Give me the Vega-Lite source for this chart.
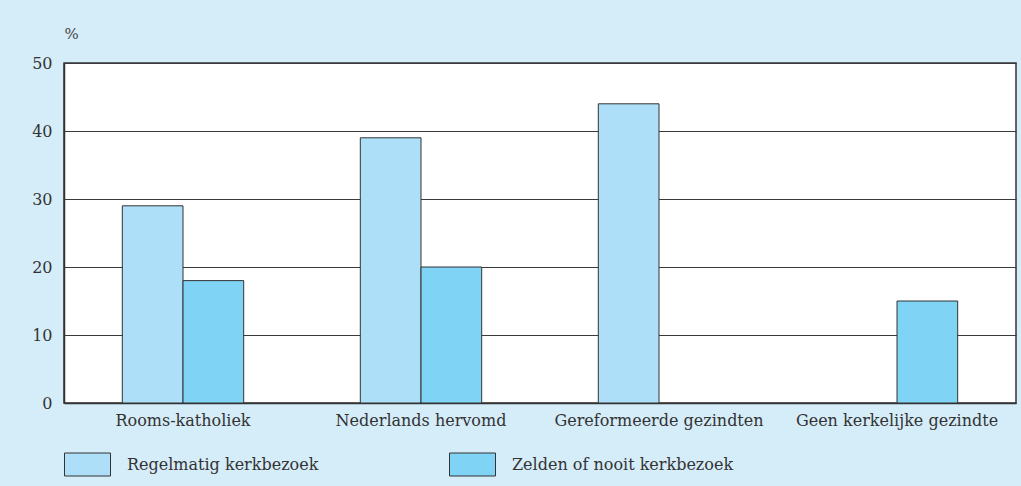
{
  "$schema": "https://vega.github.io/schema/vega-lite/v6.json",
  "width": 952,
  "height": 340,
  "autosize": {"type": "none"},
  "padding": {"left": 64, "top": 63, "right": 5, "bottom": 83},
  "background": "#d5ecf9",
  "data": {
    "values": [
      {"groep": "Rooms-katholiek", "kerkbezoek": "Regelmatig kerkbezoek", "pct": 29},
      {"groep": "Rooms-katholiek", "kerkbezoek": "Zelden of nooit kerkbezoek", "pct": 18},
      {"groep": "Nederlands hervomd", "kerkbezoek": "Regelmatig kerkbezoek", "pct": 39},
      {"groep": "Nederlands hervomd", "kerkbezoek": "Zelden of nooit kerkbezoek", "pct": 20},
      {"groep": "Gereformeerde gezindten", "kerkbezoek": "Regelmatig kerkbezoek", "pct": 44},
      {"groep": "Geen kerkelijke gezindte", "kerkbezoek": "Zelden of nooit kerkbezoek", "pct": 15}
    ]
  },
  "mark": {"type": "bar", "stroke": "#333333", "strokeWidth": 1},
  "encoding": {
    "x": {
      "field": "groep",
      "type": "nominal",
      "sort": ["Rooms-katholiek", "Nederlands hervomd", "Gereformeerde gezindten", "Geen kerkelijke gezindte"],
      "scale": {"paddingInner": 0.49, "paddingOuter": 0.245},
      "axis": {
        "title": null,
        "labelAngle": 0,
        "ticks": false,
        "labelPadding": 9,
        "labelFontSize": 16,
        "labelLimit": 300,
        "labelColor": "#333333",
        "domainColor": "#333333",
        "domainWidth": 1.5,
        "labelFont": "DejaVu Serif"
      }
    },
    "xOffset": {
      "field": "kerkbezoek",
      "type": "nominal",
      "scale": {"domain": ["Regelmatig kerkbezoek", "Zelden of nooit kerkbezoek"], "paddingInner": 0, "paddingOuter": 0}
    },
    "y": {
      "field": "pct",
      "type": "quantitative",
      "scale": {"domain": [0, 50]},
      "axis": {
        "values": [0, 10, 20, 30, 40, 50],
        "title": "%",
        "titleAngle": 0,
        "titleX": 0,
        "titleY": -30,
        "titleAlign": "left",
        "titleBaseline": "middle",
        "titleFontWeight": "normal",
        "titleFontSize": 15,
        "titleColor": "#444444",
        "titleFont": "DejaVu Serif",
        "ticks": false,
        "labelPadding": 12,
        "labelFontSize": 16,
        "labelColor": "#333333",
        "labelFont": "DejaVu Serif",
        "domainColor": "#333333",
        "domainWidth": 1.5,
        "grid": true,
        "gridColor": "#3a3a3a",
        "gridWidth": 1
      }
    },
    "color": {
      "field": "kerkbezoek",
      "type": "nominal",
      "scale": {"domain": ["Regelmatig kerkbezoek", "Zelden of nooit kerkbezoek"], "range": ["#addff9", "#7fd3f5"]},
      "legend": {
        "orient": "none",
        "legendX": 0,
        "legendY": 378,
        "direction": "horizontal",
        "title": null,
        "symbolType": "M-1,-0.5H1V0.5H-1Z",
        "symbolSize": 2116,
        "symbolStrokeColor": "#333333",
        "symbolStrokeWidth": 1,
        "symbolOpacity": 1,
        "labelOffset": 16,
        "labelFontSize": 16,
        "labelColor": "#333333",
        "labelFont": "DejaVu Serif",
        "labelLimit": 400,
        "columnPadding": 128
      }
    }
  },
  "config": {
    "view": {"fill": "white", "stroke": "#333333", "strokeWidth": 1.5},
    "font": "DejaVu Serif"
  }
}
